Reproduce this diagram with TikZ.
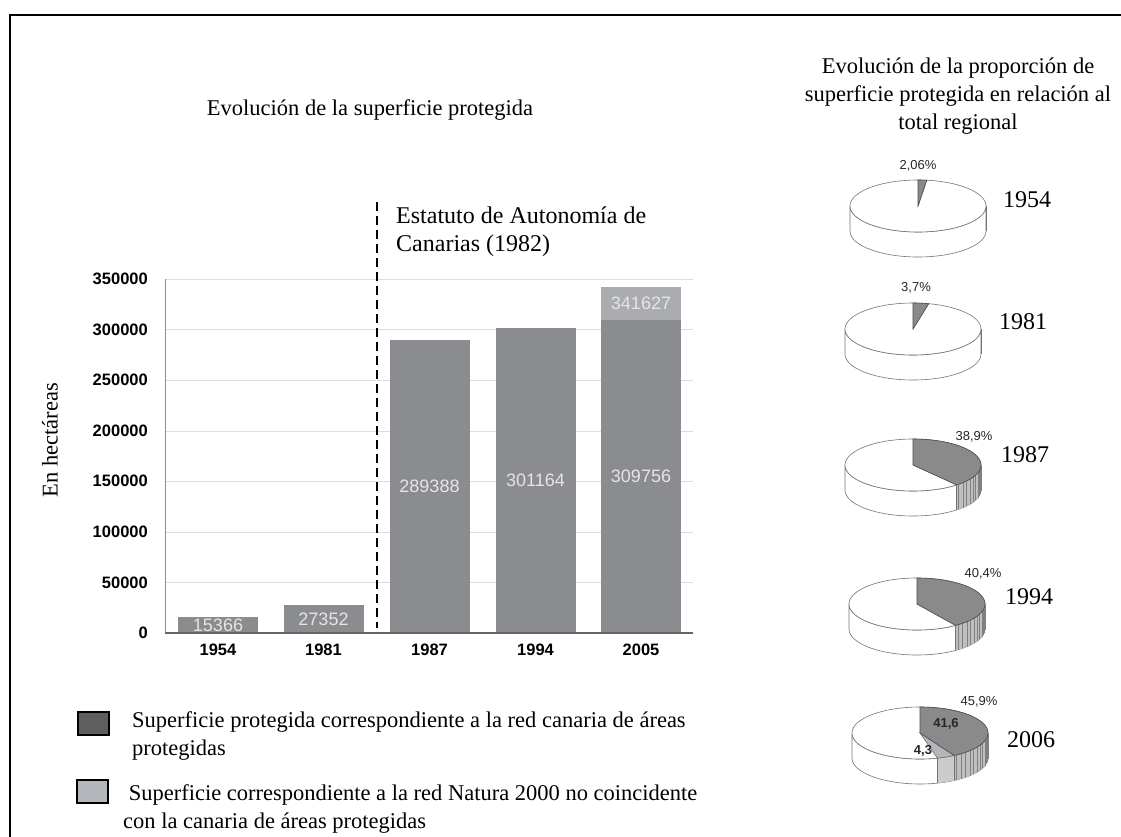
\documentclass[tikz,border=0pt]{standalone}
\usepackage{fontspec}
\setmainfont{Liberation Serif}
\setsansfont{Liberation Sans}
\definecolor{barcol}{HTML}{8B8C90}
\definecolor{toplight}{HTML}{ABACAF}
\definecolor{darkkey}{HTML}{5C5E60}
\definecolor{lightkey}{HTML}{B3B6BA}
\definecolor{gridgray}{HTML}{DDDDDD}
\definecolor{slicegray}{HTML}{8A8A8A}
\tikzset{
  ser/.style={font=\fontsize{22.5}{28}\selectfont, inner sep=0},
  big/.style={font=\fontsize{24}{28}\selectfont, inner sep=0},
  ticklab/.style={font=\sffamily\bfseries\fontsize{16.5}{18}\selectfont, anchor=east, inner sep=0},
  yearlab/.style={font=\sffamily\bfseries\fontsize{16.5}{18}\selectfont, inner sep=0},
  barlab/.style={font=\sffamily\fontsize{18}{20}\selectfont, text=black!10, inner sep=0},
  pctlab/.style={font=\sffamily\fontsize{13}{15}\selectfont, text=black!85, inner sep=0},
  pieline/.style={draw=black!55, line width=0.6pt},
  keybox/.style={draw=black, line width=1.6pt},
}
% #1 centre, #2 end angle of the dark part, #3 end angle of the light part
\newcommand{\cylpie}[3]{%
  \begin{scope}[shift={#1}, y=1pt]
    \pgfmathsetmacro\ea{min(#2,0)}
    \pgfmathsetmacro\eb{min(#3,0)}
    \filldraw[pieline, fill=white] (-68,0) arc[start angle=180, end angle=360, x radius=68, y radius=26]
      -- (68,-25) arc[start angle=360, end angle=180, x radius=68, y radius=26] -- cycle;
    \fill[black!25] (68,0) arc[start angle=0, end angle=\ea, x radius=68, y radius=26]
      -- ++(0,-25) arc[start angle=\ea, end angle=0, x radius=68, y radius=26] -- cycle;
    \ifdim\ea pt<-3pt
      \foreach \t in {-3,-8,...,\ea} \draw[black!50, line width=0.35pt] ({68*cos(\t)},{26*sin(\t)}) -- ++(0,-25);
    \fi
    \fill[black!20] ({68*cos(\ea)},{26*sin(\ea)}) arc[start angle=\ea, end angle=\eb, x radius=68, y radius=26]
      -- ++(0,-25) arc[start angle=\eb, end angle=\ea, x radius=68, y radius=26] -- cycle;
    \draw[pieline] ({68*cos(\ea)},{26*sin(\ea)}) -- ++(0,-25);
    \draw[pieline] ({68*cos(\eb)},{26*sin(\eb)}) -- ++(0,-25);
    \filldraw[pieline, fill=white] (0,0) ellipse[x radius=68, y radius=26];
    \filldraw[pieline, fill=lightkey] (0,0) -- ({68*cos(#2)},{26*sin(#2)}) arc[start angle=#2, end angle=#3, x radius=68, y radius=26] -- cycle;
    \filldraw[pieline, draw=black!70, fill=slicegray] (0,0) -- (0,26) arc[start angle=90, end angle=#2, x radius=68, y radius=26] -- cycle;
  \end{scope}}
\begin{document}
\begin{tikzpicture}[x=1pt,y=-1pt]
\useasboundingbox (0,0) rectangle (1121,837);
\draw[line width=2.2pt] (10,837) -- (10,15) -- (1121,15);

\node[ser] (title) at (370,110) {Evolución de la superficie protegida};
\node[ser, align=center] (pietitle) at (958,96) {Evolución de la proporción de\\superficie protegida en relación al\\total regional};

\foreach \k/\lab in {0/0,1/50000,2/100000,3/150000,4/200000,5/250000,6/300000,7/350000} {
  \draw[gridgray] (165,633-\k*50.57) -- (693,633-\k*50.57);
  \node[ticklab] (tick\k) at (148,633-\k*50.57) {\lab};
}
\foreach \x/\h/\lab/\yr [count=\i] in {218/15.366/15366/1954, 323.5/27.352/27352/1981, 429.5/289.388/289388/1987, 535.5/301.164/301164/1994, 641/309.756/309756/2005} {
  \fill[barcol] (\x-40,633) rectangle (\x+40,633-\h*1.01143);
  \node[barlab] (val\i) at (\x,633-\h*0.5057) {\lab};
  \node[yearlab] (yr\i) at (\x,650) {\yr};
}
\fill[toplight] (601,633-309.756*1.01143) rectangle (681,633-341.627*1.01143);
\node[barlab] (val6) at (641,303.5) {341627};
\draw[black!45] (165,279) -- (165,633);
\draw[black!60, line width=1.2pt] (165,633) -- (693,633);
\node[ser, rotate=90] (ylab) at (50,440) {En hectáreas};

\coordinate (dtop) at (377,202);
\coordinate (dbot) at (377,628);
\draw[line width=2.4pt, dash pattern=on 9pt off 5pt] (dtop) -- (dbot);
\node[big, align=left, anchor=north west] (estatuto) at (396,207) {Estatuto de Autonomía de\\Canarias (1982)};

\cylpie{(918,206)}{82.6}{82.6}
\cylpie{(913,329)}{76.7}{76.7}
\cylpie{(913,465)}{-50.0}{-50.0}
\cylpie{(917,604)}{-55.4}{-55.4}
\cylpie{(920,733)}{-59.8}{-75.2}
\node[pctlab] (p1954) at (918,166) {2,06\%};
\node[pctlab] (p1981) at (916,288) {3,7\%};
\node[pctlab] (p1987) at (974,437) {38,9\%};
\node[pctlab] (p1994) at (983,574) {40,4\%};
\node[pctlab] (p2006) at (979,702) {45,9\%};
\node[pctlab, font=\sffamily\bfseries\fontsize{13}{15}\selectfont] (red2006) at (946,724) {41,6};
\node[pctlab, font=\sffamily\bfseries\fontsize{13}{15}\selectfont] (nat2006) at (923,751) {4,3};
\node[big] (y1954) at (1027,200) {1954};
\node[big] (y1981) at (1023,322) {1981};
\node[big] (y1987) at (1025,455) {1987};
\node[big] (y1994) at (1029,597) {1994};
\node[big] (y2006) at (1031,740) {2006};

\filldraw[keybox, fill=darkkey] (78,712) rectangle (109,735);
\filldraw[keybox, fill=lightkey] (77,780) rectangle (108,803);
\node[ser, align=left, anchor=north west] (key1) at (132,711) {Superficie protegida correspondiente a la red canaria de áreas\\protegidas};
\node[ser, align=left, anchor=north west] (key2) at (123,784) {\ Superficie correspondiente a la red Natura 2000 no coincidente\\con la canaria de áreas protegidas};
\end{tikzpicture}
\end{document}
